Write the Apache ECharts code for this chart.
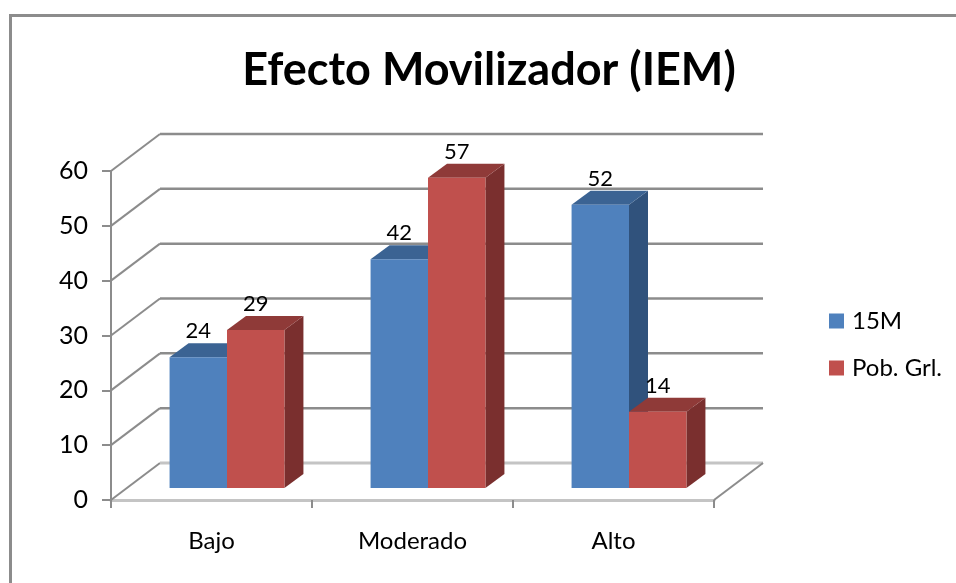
<!DOCTYPE html>
<html><head><meta charset="utf-8">
<style>html,body{margin:0;padding:0;background:#fff}#c{width:956px;height:583px}</style>
<script src="https://cdn.jsdelivr.net/npm/echarts@6/dist/echarts.min.js"></script>
</head><body><div id="c"></div>
<script>
const titleText = 'Efecto Movilizador (IEM)';
const categories = ['Bajo', 'Moderado', 'Alto'];
const values15M = [24, 42, 52];
const valuesPob = [29, 57, 14];
const yTicks = [0, 10, 20, 30, 40, 50, 60];
const colors15M = {front: '#4F81BD', top: '#3B6393', side: '#30527C'};
const colorsPob = {front: '#C0504D', top: '#8F3A38', side: '#7A2F2E'};

const FONT = 'Lato';
const WALL_DX = 49, WALL_DY = -37;
const BAR_DX = 19, BAR_DY = -14, BASE_DY = -12, SHIFT = 15.5, BAR_FRAC = 0.2857, DEPTH_SCALE = 0.993;
const LINE = '#8C8C8C';

function wallRender(params, api) {
  const v = api.value(0);
  const cs = params.coordSys;
  const y = api.coord([0, v])[1];
  const l = {stroke: v === 0 ? '#C4C4C4' : LINE, lineWidth: v === 0 ? 3 : 2.5};
  const d = {stroke: LINE, lineWidth: 2};
  const kids = [
    {type: 'line', shape: {x1: cs.x, y1: y, x2: cs.x + WALL_DX, y2: y + WALL_DY}, style: d},
    {type: 'line', shape: {x1: cs.x + WALL_DX, y1: y + WALL_DY, x2: cs.x + cs.width + WALL_DX, y2: y + WALL_DY}, style: l}
  ];
  if (v === 0) kids.push({type: 'line', shape: {x1: cs.x + cs.width, y1: y, x2: cs.x + cs.width + WALL_DX, y2: y + WALL_DY}, style: d});
  return {type: 'group', children: kids};
}
function barRender(colors, dir) {
  return function (params, api) {
    const i = api.value(0), v = api.value(1);
    const c = api.coord([i, v]), c0 = api.coord([i, 0]);
    const w = api.size([1, 0])[0] * BAR_FRAC;
    const cx = c[0] + SHIFT;
    const x0 = dir < 0 ? cx - w : cx, x1 = x0 + w;
    const yB = c0[1] + BASE_DY, yT = yB - (c0[1] - c[1]) * DEPTH_SCALE;
    return {type: 'group', children: [
      {type: 'polygon', shape: {points: [[x1, yT], [x1 + BAR_DX, yT + BAR_DY], [x1 + BAR_DX, yB + BAR_DY], [x1, yB]]}, style: {fill: colors.side}},
      {type: 'polygon', shape: {points: [[x0, yT], [x0 + BAR_DX, yT + BAR_DY], [x1 + BAR_DX, yT + BAR_DY], [x1, yT]]}, style: {fill: colors.top}},
      {type: 'rect', shape: {x: x0, y: yT, width: w, height: yB - yT}, style: {fill: colors.front}},
      {type: 'text', x: (x0 + x1) / 2, y: yT - 26, style: {text: String(v), fill: '#000', font: '22px ' + FONT, align: 'center', verticalAlign: 'middle'}}
    ]};
  };
}
const chart = echarts.init(document.getElementById('c'), null, {renderer: 'canvas'});
chart.setOption({
  animation: false,
  backgroundColor: '#fff',
  title: {text: titleText, left: 484, textAlign: 'center', top: 43,
    textStyle: {fontFamily: FONT, fontWeight: 'bold', fontSize: 45, color: '#000'}},
  legend: {data: ['15M', 'Pob. Grl.'], orient: 'vertical', left: 829, top: 309, padding: 0, itemWidth: 15, itemHeight: 15, itemGap: 23,
    icon: 'rect', textStyle: {fontFamily: FONT, fontSize: 24, color: '#000', padding: [0, 0, 0, 3]}},
  grid: {left: 111, right: 242, top: 171, bottom: 83},
  xAxis: {type: 'category', data: categories, boundaryGap: true,
    axisLine: {lineStyle: {color: '#C4C4C4', width: 3}},
    axisTick: {show: true, length: 8, lineStyle: {color: LINE, width: 2}},
    axisLabel: {margin: 29, color: '#000', fontFamily: FONT, fontSize: 24},
    splitLine: {show: false}},
  yAxis: {type: 'value', min: 0, max: 60, interval: 10,
    axisLine: {show: true, lineStyle: {color: LINE, width: 2}},
    axisTick: {show: true, length: 9, lineStyle: {color: LINE, width: 2}},
    axisLabel: {margin: 23, color: '#000', fontFamily: FONT, fontSize: 25, padding: [2, 0, 0, 0]},
    splitLine: {show: false}},
  series: [
    {type: 'custom', name: 'walls', renderItem: wallRender, data: yTicks.map(t => [t]), encode: {y: 0}, silent: true, z: 1},
    {type: 'custom', name: '15M', renderItem: barRender(colors15M, -1), itemStyle: {color: colors15M.front},
      data: values15M.map((v, i) => [i, v]), encode: {x: 0, y: 1}, z: 2},
    {type: 'custom', name: 'Pob. Grl.', renderItem: barRender(colorsPob, 1), itemStyle: {color: colorsPob.front},
      data: valuesPob.map((v, i) => [i, v]), encode: {x: 0, y: 1}, z: 3}
  ],
  graphic: [
    {type: 'line', shape: {x1: 10.5, y1: 14, x2: 10.5, y2: 583}, style: {stroke: '#8C8C8C', lineWidth: 3}, silent: true},
    {type: 'line', shape: {x1: 9, y1: 15.5, x2: 956, y2: 15.5}, style: {stroke: '#8C8C8C', lineWidth: 3}, silent: true}
  ]
});
</script></body></html>
